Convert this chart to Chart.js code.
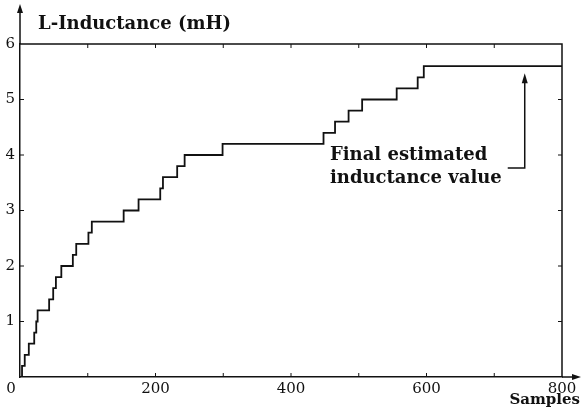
<!DOCTYPE html>
<html>
<head>
<meta charset="utf-8">
<script src="https://cdn.jsdelivr.net/npm/chart.js@4.4.1/dist/chart.umd.min.js"></script>
<style>
    html, body { margin: 0; padding: 0; background: #fff; }
</style>
</head>
<body>
<canvas id="inductanceChart" width="581" height="420"></canvas>
<script>
// sample index where each new estimate starts, and the estimate itself (mH)
const sampleSteps = [0, 3, 7, 13, 21, 24, 26, 43, 49, 53, 61, 78, 83, 101, 106, 153, 175, 207, 211, 232, 243, 299, 448, 465, 485, 505, 556, 587, 596, 800];
const inductance  = [0, 0.2, 0.4, 0.6, 0.8, 1.0, 1.2, 1.4, 1.6, 1.8, 2.0, 2.2, 2.4, 2.6, 2.8, 3.0, 3.2, 3.4, 3.6, 3.8, 4.0, 4.2, 4.4, 4.6, 4.8, 5.0, 5.2, 5.4, 5.6, 5.6];

const xTicks = [0, 200, 400, 600, 800];
const yTicks = [1, 2, 3, 4, 5, 6];

const yTitle = 'L-Inductance (mH)';
const xTitle = 'Samples';
const noteLines = ['Final estimated', 'inductance value'];
const noteTarget = { x: 745, y: 5.6 };

const ink = '#111';
const serif = '"DejaVu Serif", serif';

// frame, inner ticks, arrows and texts
const framePlugin = {
    id: 'frame',
    afterDraw(chart) {
        const { ctx, chartArea: a, scales: { x, y } } = chart;
        ctx.save();
        ctx.strokeStyle = ink;
        ctx.fillStyle = ink;
        ctx.lineWidth = 1.5;

        ctx.beginPath();
        // top and right border
        ctx.moveTo(a.left, a.top);
        ctx.lineTo(a.right, a.top);
        ctx.lineTo(a.right, a.bottom);
        // axis extensions
        ctx.moveTo(a.left, a.top);
        ctx.lineTo(a.left, 10);
        ctx.moveTo(a.right, a.bottom);
        ctx.lineTo(576, a.bottom);
        ctx.stroke();

        // arrow heads
        ctx.beginPath();
        ctx.moveTo(a.left, 4);
        ctx.lineTo(a.left - 3, 13);
        ctx.lineTo(a.left + 3, 13);
        ctx.closePath();
        ctx.moveTo(581, a.bottom);
        ctx.lineTo(572, a.bottom - 3);
        ctx.lineTo(572, a.bottom + 3);
        ctx.closePath();
        ctx.fill();

        // inner ticks
        ctx.lineWidth = 1;
        ctx.beginPath();
        for (let v = 100; v < 800; v += 100) {
            const px = x.getPixelForValue(v);
            ctx.moveTo(px, a.bottom);
            ctx.lineTo(px, a.bottom - 4);
            ctx.moveTo(px, a.top);
            ctx.lineTo(px, a.top + 4);
        }
        for (let v = 1; v < 6; v++) {
            const py = y.getPixelForValue(v);
            ctx.moveTo(a.left, py);
            ctx.lineTo(a.left + 4, py);
            ctx.moveTo(a.right, py);
            ctx.lineTo(a.right - 4, py);
        }
        ctx.stroke();

        // origin label
        ctx.font = '15px ' + serif;
        ctx.textAlign = 'center';
        ctx.textBaseline = 'alphabetic';
        ctx.fillText('0', a.left - 9, a.bottom + 16);

        // axis titles
        ctx.font = 'bold 18px ' + serif;
        ctx.textAlign = 'left';
        ctx.fillText(yTitle, 38, 29);
        ctx.font = 'bold 15px ' + serif;
        ctx.textAlign = 'right';
        ctx.fillText(xTitle, 580, 404);

        // annotation
        ctx.font = 'bold 18px ' + serif;
        ctx.textAlign = 'left';
        ctx.fillText(noteLines[0], 330, 160);
        ctx.fillText(noteLines[1], 330, 183);

        const ax = x.getPixelForValue(noteTarget.x);
        const ay = y.getPixelForValue(noteTarget.y) + 7;
        ctx.lineWidth = 1.5;
        ctx.beginPath();
        ctx.moveTo(ax - 17, 168);
        ctx.lineTo(ax, 168);
        ctx.lineTo(ax, ay + 8);
        ctx.stroke();
        ctx.beginPath();
        ctx.moveTo(ax, ay);
        ctx.lineTo(ax - 3, ay + 10);
        ctx.lineTo(ax + 3, ay + 10);
        ctx.closePath();
        ctx.fill();
        ctx.restore();
    }
};

new Chart(document.getElementById('inductanceChart'), {
    type: 'line',
    data: {
        datasets: [{
            data: sampleSteps.map((s, i) => ({ x: s, y: inductance[i] })),
            stepped: 'before',
            borderColor: ink,
            borderWidth: 1.8,
            pointRadius: 0,
            fill: false
        }]
    },
    options: {
        responsive: false,
        animation: false,
        layout: { padding: { top: 44, right: 19, left: 0, bottom: 0 } },
        plugins: { legend: { display: false }, tooltip: { enabled: false } },
        scales: {
            x: {
                type: 'linear',
                min: 0,
                max: 800,
                afterBuildTicks: (scale) => { scale.ticks = xTicks.map(v => ({ value: v })); },
                afterFit: (scale) => { scale.height = 43; },
                ticks: {
                    callback: (v) => v === 0 ? '' : v,
                    color: ink,
                    font: { family: serif, size: 15 },
                    padding: 3,
                    maxRotation: 0,
                    autoSkip: false
                },
                grid: { display: false, drawTicks: false },
                border: { display: true, color: ink, width: 1.5 }
            },
            y: {
                min: 0,
                max: 6,
                afterBuildTicks: (scale) => { scale.ticks = yTicks.map(v => ({ value: v })); },
                afterFit: (scale) => { scale.width = 20; },
                ticks: {
                    color: ink,
                    font: { family: serif, size: 15 },
                    padding: 5
                },
                grid: { display: false, drawTicks: false },
                border: { display: true, color: ink, width: 1.5 }
            }
        }
    },
    plugins: [framePlugin]
});
</script>
</body>
</html>
